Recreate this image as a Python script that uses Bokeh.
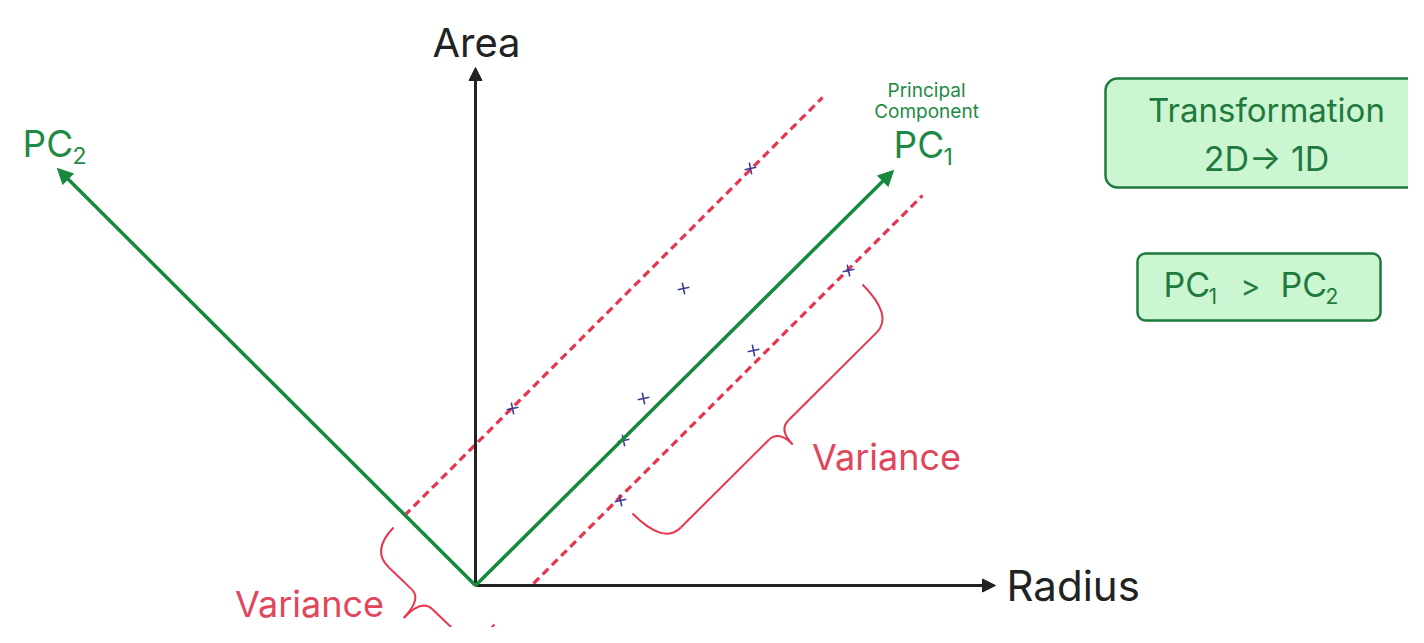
import math
from bokeh.plotting import figure
from bokeh.models import Range1d, Arrow, NormalHead, ColumnDataSource, BoxAnnotation
from bokeh.core.properties import value
from bokeh.embed import file_html
from bokeh.resources import INLINE

# ---------------- data (diagram coordinates, y grows downward) ----------------
origin_x, origin_y = 475, 585
axis_labels = ["Area", "Radius"]
axis_tip_x = [475, 995]
axis_tip_y = [67, 585]

pc_labels = ["PC1", "PC2"]
pc_tip_x = [893, 57]
pc_tip_y = [170, 168]

band_x0 = [404, 533]
band_y0 = [515, 583]
band_x1 = [822, 922]
band_y1 = [97, 195]

obs_x = [750, 683, 512, 643, 623, 753, 848, 620]
obs_y = [168, 288, 408, 398, 440, 350, 270, 500]

# braces: (start, end, normal side, arm offset, tip offset)
brace_specs = [
    ((862, 284), (632, 513), -1, 44, 64),
    ((393, 527), (494, 624), 1, 32, 58),
]

FONT = value("Inter")
GREEN = "#16893d"
GREEN_TXT = "#1e8a45"
BOX_TXT = "#1f7a3d"
RED = "#e8354f"
RED_TXT = "#e0475c"
BLACK = "#222222"
BLUE = "#3c3c9c"

p = figure(width=1408, height=627, x_range=Range1d(0, 1408), y_range=Range1d(627, 0),
           output_backend="svg", toolbar_location=None, min_border=0,
           x_axis_location=None, y_axis_location=None)
p.grid.visible = False
p.outline_line_color = None
p.background_fill_color = "white"

# boxes on the right
p.add_layout(BoxAnnotation(left=1105, right=1440, top=78, bottom=187, fill_color="#ccf5d1",
                           fill_alpha=1, line_color=BOX_TXT, line_alpha=1, line_width=2.5,
                           border_radius=12, level="underlay"))
p.add_layout(BoxAnnotation(left=1137, right=1380, top=253, bottom=320, fill_color="#ccf5d1",
                           fill_alpha=1, line_color=BOX_TXT, line_alpha=1, line_width=2.5,
                           border_radius=8, level="underlay"))

# dashed variance bands
p.segment(x0=band_x0, y0=band_y0, x1=band_x1, y1=band_y1, line_color=RED,
          line_width=3.2, line_dash="8 5")

# axes arrows
ax_src = ColumnDataSource(dict(x0=[origin_x] * 2, y0=[origin_y] * 2, x1=axis_tip_x, y1=axis_tip_y))
p.add_layout(Arrow(end=NormalHead(size=13, fill_color=BLACK, line_color=BLACK),
                   x_start="x0", y_start="y0", x_end="x1", y_end="y1", source=ax_src,
                   line_color=BLACK, line_width=3))

# principal component arrows
pc_src = ColumnDataSource(dict(x0=[origin_x] * 2, y0=[origin_y] * 2, x1=pc_tip_x, y1=pc_tip_y))
p.add_layout(Arrow(end=NormalHead(size=15, fill_color=GREEN, line_color=GREEN),
                   x_start="x0", y_start="y0", x_end="x1", y_end="y1", source=pc_src,
                   line_color=GREEN, line_width=3.5))

# observations
p.scatter(obs_x, obs_y, marker="cross", size=12, line_width=1.6, line_color=BLUE, angle=0.2)

# braces
qx0, qy0, qx1, qy1, qcx, qcy = [], [], [], [], [], []
sx0, sy0, sx1, sy1 = [], [], [], []
for (a, b, side, arm, tip) in brace_specs:
    ux, uy = b[0] - a[0], b[1] - a[1]
    L = math.hypot(ux, uy)
    ux, uy = ux / L, uy / L
    nx, ny = side * -uy, side * ux
    r, r2 = 24, 14
    mx, my = (a[0] + b[0]) / 2, (a[1] + b[1]) / 2
    c1 = (a[0] + nx * arm, a[1] + ny * arm)
    A1 = (c1[0] + ux * r, c1[1] + uy * r)
    c2 = (b[0] + nx * arm, b[1] + ny * arm)
    A2 = (c2[0] - ux * r, c2[1] - uy * r)
    ma = (mx + nx * arm, my + ny * arm)
    B1 = (ma[0] - ux * r2, ma[1] - uy * r2)
    B2 = (ma[0] + ux * r2, ma[1] + uy * r2)
    T = (mx + nx * tip, my + ny * tip)
    for s, e, c in [(a, A1, c1), (b, A2, c2), (B1, T, ma), (B2, T, ma)]:
        qx0.append(s[0]); qy0.append(s[1]); qx1.append(e[0]); qy1.append(e[1])
        qcx.append(c[0]); qcy.append(c[1])
    for s, e in [(A1, B1), (A2, B2)]:
        sx0.append(s[0]); sy0.append(s[1]); sx1.append(e[0]); sy1.append(e[1])
p.quadratic(x0=qx0, y0=qy0, x1=qx1, y1=qy1, cx=qcx, cy=qcy, line_color=RED, line_width=2)
p.segment(x0=sx0, y0=sy0, x1=sx1, y1=sy1, line_color=RED, line_width=2)

def txt(x, y, s, size, color, align="center"):
    # y is the wanted visual baseline; compensate the renderer's baseline offset
    yy = y - 0.36 * size
    p.text(x=[x], y=[yy], text=[s], text_font=FONT, text_font_size=f"{size}px",
           text_color=color, text_align=align, text_baseline="alphabetic")

# axis labels
txt(476, 56, axis_labels[0], 40, BLACK)
txt(1006, 600, axis_labels[1], 42, BLACK, "left")

# PC labels
txt(22, 156, "PC", 37, GREEN_TXT, "left")
txt(72, 163, "2", 23, GREEN_TXT, "left")
txt(893, 157, "PC", 37, GREEN_TXT, "left")
txt(943, 164, "1", 23, GREEN_TXT, "left")
txt(926, 97, "Principal", 19, GREEN_TXT)
txt(926, 118, "Component", 19, GREEN_TXT)

# variance labels
txt(886, 469, "Variance", 36, RED_TXT)
txt(309, 616, "Variance", 36, RED_TXT)

# boxes text
txt(1266, 121, "Transformation", 33, BOX_TXT)
txt(1266, 170, "2D\u2192 1D", 34, BOX_TXT)
txt(1163, 296, "PC", 34, BOX_TXT, "left")
txt(1208, 303, "1", 21, BOX_TXT, "left")
txt(1250, 296, ">", 30, BOX_TXT)
txt(1280, 296, "PC", 34, BOX_TXT, "left")
txt(1325, 303, "2", 21, BOX_TXT, "left")

open("out.html", "w").write(file_html(p, INLINE))
